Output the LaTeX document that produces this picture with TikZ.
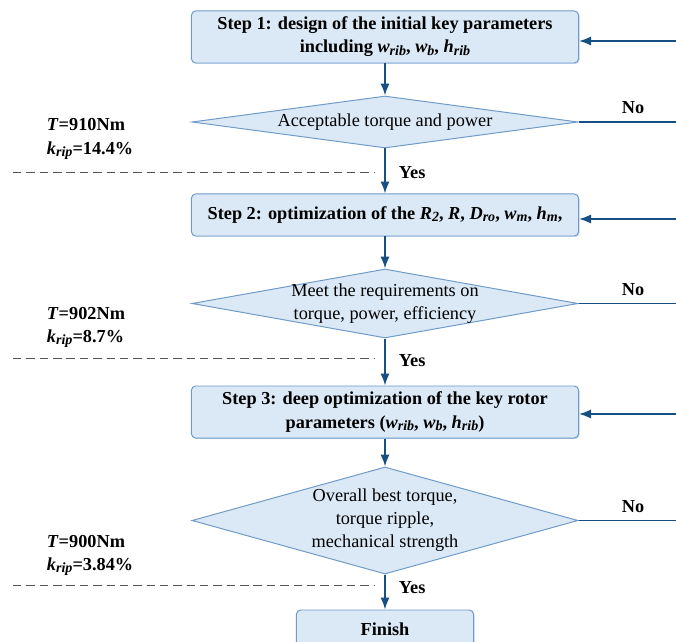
\documentclass[tikz,border=0pt]{standalone}
\usepackage{fontspec}
\setmainfont{Liberation Serif}
\usetikzlibrary{positioning,arrows.meta,shapes.geometric,shadows}
\definecolor{boxfill}{RGB}{219,232,245}
\definecolor{boxline}{RGB}{110,155,200}
\definecolor{flowblue}{RGB}{22,80,130}
\definecolor{dashgray}{RGB}{85,85,85}
\newcommand{\pv}[2]{{\itshape #1\raisebox{-0.25ex}{\fontsize{10}{12}\selectfont #2}}}
\tikzset{
  stepbox/.style={rectangle,rounded corners=3pt,draw=boxline,fill=boxfill,line width=0.7pt,
    drop shadow={shadow xshift=0.7pt,shadow yshift=-0.7pt,opacity=0.35,fill=boxline},
    minimum width=9.675cm,align=center,font=\bfseries\fontsize{13}{16.4}\selectfont},
  checkbox/.style={diamond,draw=boxline,fill=boxfill,line width=0.7pt,inner sep=0pt,
    minimum width=9.65cm,align=center,font=\fontsize{13}{16.4}\selectfont},
  flow/.style={draw=flowblue,line width=1.2pt,-{Latex[length=8.5pt,width=6.5pt]}},
  noline/.style={draw=flowblue,line width=1.2pt},
  gap/.style={draw=dashgray,dash pattern=on 6pt off 3.5pt,line width=0.6pt},
  tag/.style={font=\bfseries\fontsize{13}{16.4}\selectfont},
  result/.style={align=left,font=\bfseries\fontsize{13}{16.4}\selectfont}
}

\begin{document}
\begin{tikzpicture}[x=0.025cm,y=-0.025cm]
    \useasboundingbox (0,0) rectangle (676,642);
    \node[stepbox,minimum height=1.3cm] (s1) at (385,37)
      {Step 1: design of the initial key parameters\\including \pv{w}{rib}, \pv{w}{b}, \pv{h}{rib}};
    \node[checkbox,aspect=7.42,minimum height=1.3cm] (c1) at (385,122) {Acceptable torque and power};
    \node[stepbox,minimum height=1.05cm] (s2) at (385,215)
      {Step 2: optimization of the \pv{R}{2}, \textit{R}, \pv{D}{ro}, \pv{w}{m}, \pv{h}{m},};
    \node[checkbox,aspect=5.59,inner sep=-4pt,minimum height=1.725cm] (c2) at (385,303.5)
      {Meet the requirements on\\torque, power, efficiency};
    \node[stepbox,minimum height=1.3cm] (s3) at (385,412)
      {Step 3: deep optimization of the key rotor\\parameters (\pv{w}{rib}, \pv{w}{b}, \pv{h}{rib})};
    \node[checkbox,aspect=3.61,minimum height=2.675cm] (c3) at (385,520.5)
      {Overall best torque,\\torque ripple,\\mechanical strength};
    \node[stepbox,minimum width=4.425cm,minimum height=0.95cm] (fin) at (385,629) {Finish};

    \draw[flow] (s1) -- (c1);
    \draw[flow] (c1) -- (s2);
    \draw[flow] (s2) -- (c2);
    \draw[flow] (c2) -- (s3);
    \draw[flow] (s3) -- (c3);
    \draw[flow] (c3) -- (fin);

    \coordinate (e1) at (676,122);
    \coordinate (e2) at (676,303.5);
    \coordinate (e3) at (676,520.5);
    \coordinate (b1) at (676,41);
    \coordinate (b2) at (676,219);
    \coordinate (b3) at (676,414);
    \draw[noline] (c1.east) -- (e1);
    \draw[noline] (c2.east) -- (e2);
    \draw[noline] (c3.east) -- (e3);
    \draw[flow] (b1) -- (b1 -| s1.east);
    \draw[flow] (b2) -- (b2 -| s2.east);
    \draw[flow] (b3) -- (b3 -| s3.east);
    \node[tag,anchor=south] (no1) at (633,119) {No};
    \node[tag,anchor=south] (no2) at (633,300.5) {No};
    \node[tag,anchor=south] (no3) at (633,517.5) {No};

    \node[tag,anchor=west] (yes1) at (394,173) {Yes};
    \node[tag,anchor=west] (yes2) at (394,361) {Yes};
    \node[tag,anchor=west] (yes3) at (394,588) {Yes};

    \coordinate (g1a) at (13,172);  \coordinate (g1b) at (375,172);
    \coordinate (g2a) at (13,358);  \coordinate (g2b) at (375,358);
    \coordinate (g3a) at (13,585);  \coordinate (g3b) at (375,585);
    \draw[gap] (g1a) -- (g1b);
    \draw[gap] (g2a) -- (g2b);
    \draw[gap] (g3a) -- (g3b);

    \node[result,anchor=west] (r1) at (42,139) {\textit{T}=910Nm\\\pv{k}{rip}=14.4\%};
    \node[result,anchor=west] (r2) at (42,327.5) {\textit{T}=902Nm\\\pv{k}{rip}=8.7\%};
    \node[result,anchor=west] (r3) at (42,555) {\textit{T}=900Nm\\\pv{k}{rip}=3.84\%};
\end{tikzpicture}
\end{document}
